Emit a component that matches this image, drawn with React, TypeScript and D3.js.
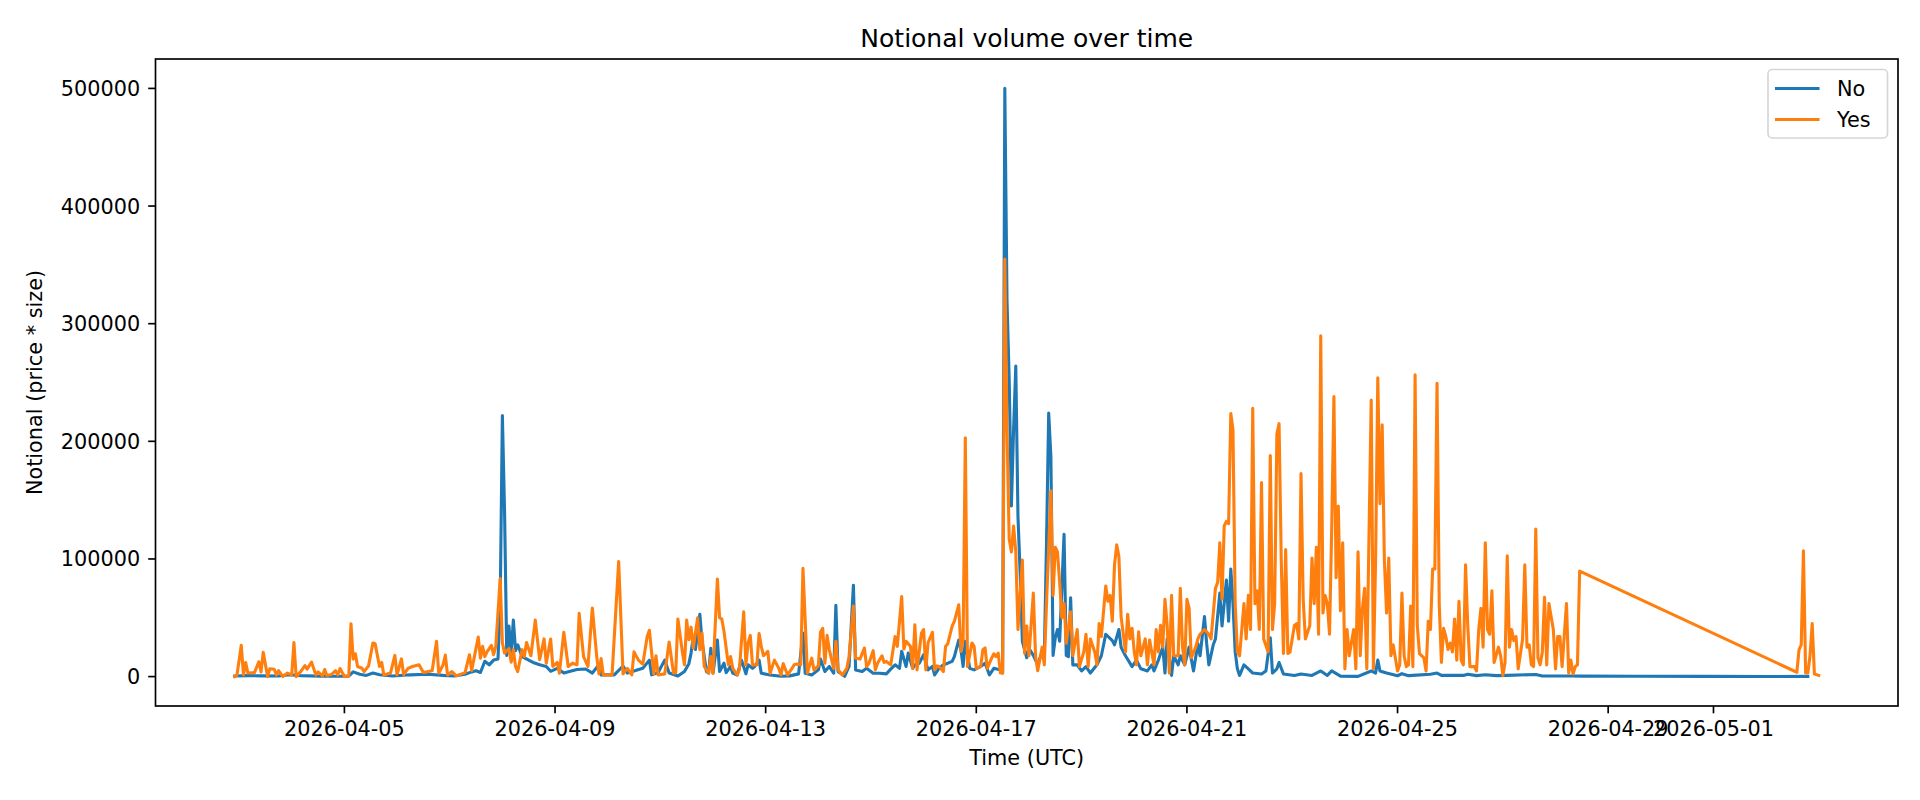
import React from "react";
import * as d3 from "d3";

// hourly buckets, hours counted from 2026-04-02 22:00 UTC
const START_UTC = Date.UTC(2026, 3, 2, 22);

// [hour, notional] for the "No" outcome
const noPoints: [number, number][] = [
  [0, 500], [6, 800], [12, 600], [20, 500], [25, 1500], [30, 800], [40, 300], [52, 400],
  [54, 4000], [57, 2000], [60, 1000], [63, 3000], [66, 1500], [72, 500], [80, 1500], [88, 2000],
  [95, 1000], [100, 500], [105, 2000], [108, 4000], [110, 5000], [112, 3500], [114, 13000],
  [116, 10000], [118, 14000], [120, 15000], [121, 60000], [122, 222000], [123, 140000],
  [124, 18000], [125, 43000], [126, 20000], [127, 48000], [128, 22000], [129, 27000],
  [131, 17000], [134, 14000], [136, 12000], [139, 10000], [142, 8600], [144, 4500], [147, 7000],
  [150, 3000], [153, 4500], [156, 6000], [160, 6500], [163, 3000], [166, 10000], [167, 1500],
  [173, 1500], [177, 9000], [179, 3000], [186, 7000], [189, 14000], [190, 1500], [193, 3500],
  [196, 14000], [198, 3000], [202, 500], [205, 4300], [207, 11000], [208, 20000], [209, 34000],
  [210, 23000], [212, 53000], [213, 30000], [215, 4300], [216, 3000], [217, 24000], [218, 3000],
  [220, 31000], [221, 4300], [223, 11400], [224, 3400], [226, 8600], [227, 2900], [229, 1400],
  [231, 14000], [233, 2300], [234, 10000], [236, 7000], [237, 8600], [239, 14000], [240, 2900],
  [244, 1400], [249, 300], [253, 600], [257, 2300], [259, 37000], [260, 2900], [263, 1400],
  [266, 5700], [267, 14900], [269, 4300], [271, 8600], [273, 2900], [274, 60600], [275, 4300],
  [278, 200], [280, 8600], [282, 77700], [283, 5700], [286, 4300], [288, 7000], [291, 2900],
  [294, 2900], [297, 2300], [299, 6300], [301, 10000], [303, 7000], [304, 21400], [306, 8600],
  [307, 20000], [309, 7000], [310, 10000], [312, 11400], [314, 18600], [316, 5700], [318, 8600],
  [319, 1400], [321, 7000], [323, 10000], [325, 11400], [327, 12900], [328, 17000], [330, 31000],
  [331, 22900], [332, 8600], [333, 30000], [335, 7000], [337, 5700], [340, 8600], [342, 11400],
  [344, 1400], [346, 7000], [349, 5700], [350, 3000], [351, 500000], [352, 320000],
  [353, 252000], [354, 145000], [355, 210000], [356, 264000], [357, 136000], [358, 88000],
  [359, 30000], [361, 16000], [362, 24000], [364, 18000], [366, 10000], [368, 21000],
  [369, 18000], [370, 113000], [371, 224000], [372, 187000], [373, 18000], [374, 33000],
  [375, 40000], [376, 30000], [378, 121000], [379, 18000], [380, 17000], [381, 67000],
  [382, 10000], [384, 10000], [386, 4800], [388, 8500], [390, 3000], [393, 10000], [395, 17700],
  [397, 36000], [400, 30600], [401, 27000], [403, 40000], [404, 25000], [406, 17700],
  [409, 8500], [411, 14000], [413, 6600], [416, 4800], [418, 10000], [419, 4800], [421, 14000],
  [423, 25000], [424, 3000], [425, 32000], [427, 1000], [428, 17700], [430, 10000],
  [431, 17700], [433, 10000], [435, 25000], [437, 4800], [439, 28000], [440, 17700],
  [442, 51000], [443, 28000], [444, 10000], [446, 27000], [447, 32000], [449, 71000],
  [450, 43000], [452, 82000], [453, 47000], [454, 91500], [455, 62000], [456, 21000],
  [457, 6600], [458, 1000], [460, 10000], [462, 6600], [464, 3000], [468, 2200], [470, 4800],
  [472, 33000], [473, 3000], [475, 6600], [476, 12000], [478, 2200], [483, 1000], [486, 2200],
  [491, 1000], [495, 4800], [498, 1000], [500, 4800], [504, 400], [512, 200], [518, 4800],
  [520, 3000], [521, 14000], [522, 4800], [525, 3000], [530, 700], [532, 2500], [535, 800],
  [545, 2000], [548, 3000], [550, 1000], [560, 1000], [562, 2000], [566, 800], [570, 1500],
  [575, 800], [580, 1000], [593, 1800], [596, 500], [610, 500], [614, 400], [640, 300],
  [670, 200], [700, 100], [717, 200],
];

// [hour, notional] for the "Yes" outcome
const yesPoints: [number, number][] = [
  [0, 0], [1, 1000], [3, 26600], [4, 1500], [5, 12000], [6, 3000], [9, 3400], [11, 12600],
  [12, 4000], [13, 20600], [15, 0], [16, 6600], [18, 6300], [19, 1400], [20, 5000], [22, 0],
  [24, 3000], [26, 1400], [27, 29000], [28, 0], [30, 4000], [32, 9400], [33, 6300], [35, 12300],
  [37, 1400], [38, 4000], [40, 600], [41, 6000], [42, 1000], [44, 1700], [46, 5000], [47, 1400],
  [48, 6900], [50, 0], [52, 600], [53, 44900], [54, 14900], [55, 19400], [56, 8600], [58, 7100],
  [59, 4300], [61, 9100], [63, 28600], [64, 28000], [66, 8600], [67, 12000], [68, 1400],
  [71, 3000], [73, 18000], [74, 1400], [76, 15000], [77, 1700], [79, 7000], [81, 8600],
  [84, 10000], [86, 3400], [90, 4900], [92, 30000], [93, 2900], [95, 10000], [96, 18300],
  [97, 1400], [99, 4300], [101, 600], [105, 3400], [107, 18600], [108, 5100], [111, 33700],
  [112, 15700], [113, 25700], [114, 17000], [115, 21000], [117, 26600], [118, 18600],
  [119, 25700], [121, 83400], [122, 28600], [123, 20000], [125, 23700], [126, 12300],
  [127, 22900], [128, 8600], [129, 4300], [131, 22900], [132, 17000], [133, 29000],
  [135, 17700], [137, 48000], [139, 14300], [141, 32000], [142, 11400], [144, 32000],
  [145, 8600], [147, 12000], [148, 2900], [150, 37700], [152, 8600], [154, 11400], [156, 10000],
  [157, 53700], [159, 17000], [161, 8600], [163, 58300], [165, 17000], [166, 2300], [167, 15400],
  [168, 1400], [172, 1400], [175, 97700], [177, 2300], [179, 7000], [181, 1400], [182, 21000],
  [184, 14000], [186, 10600], [188, 34000], [189, 39400], [191, 2300], [192, 17700], [193, 1400],
  [196, 2300], [198, 29400], [200, 3000], [201, 3000], [202, 49000], [204, 21400], [205, 10000],
  [206, 48000], [207, 31400], [208, 42000], [209, 24300], [211, 50000], [212, 22900],
  [213, 37000], [214, 8600], [216, 2900], [217, 17000], [218, 2900], [220, 83000], [221, 50000],
  [222, 49000], [223, 38600], [225, 10000], [226, 17000], [227, 7000], [229, 1400], [230, 5700],
  [232, 55000], [233, 10000], [234, 28600], [235, 35000], [236, 10000], [238, 10000],
  [239, 36600], [240, 25700], [241, 17700], [243, 21400], [244, 2900], [246, 14000], [248, 7000],
  [249, 1400], [250, 11000], [252, 1400], [254, 7000], [255, 10000], [256, 10600], [258, 10000],
  [259, 92000], [260, 48600], [261, 2900], [263, 15700], [264, 5700], [266, 9100], [267, 37700],
  [268, 41000], [269, 11400], [270, 35000], [271, 23000], [273, 7000], [274, 30000], [275, 5700],
  [277, 1400], [279, 7000], [280, 17000], [282, 60000], [283, 15700], [285, 14900], [287, 24300],
  [288, 8600], [289, 11000], [291, 22000], [292, 5700], [293, 11400], [295, 17700], [296, 12000],
  [297, 12900], [299, 10000], [301, 34000], [302, 25700], [304, 68000], [305, 23400],
  [306, 30000], [308, 25700], [309, 7000], [310, 44000], [311, 5700], [313, 37000], [314, 40000],
  [315, 5700], [316, 28600], [318, 37700], [319, 5700], [320, 9100], [321, 8600], [323, 4300],
  [324, 25700], [325, 28000], [327, 43000], [328, 47000], [330, 61000], [331, 21400],
  [332, 31400], [333, 203000], [334, 8600], [336, 28600], [337, 25700], [338, 7000], [340, 8600],
  [341, 22900], [342, 24300], [343, 7000], [345, 15700], [346, 19400], [347, 17000], [348, 20000],
  [349, 3000], [350, 3000], [351, 355000], [352, 210000], [353, 117000], [354, 106000],
  [355, 128000], [356, 106000], [357, 40000], [359, 99000], [360, 20000], [361, 43000],
  [362, 17700], [364, 71000], [365, 17700], [366, 5000], [368, 25000], [369, 10000], [370, 62000],
  [372, 158000], [373, 69000], [374, 110000], [375, 106000], [376, 80000], [377, 50000],
  [378, 62000], [379, 28400], [381, 55000], [382, 17700], [384, 40000], [385, 8500], [387, 21000],
  [388, 36000], [389, 8500], [390, 32000], [392, 21000], [393, 10000], [394, 45000], [395, 34000],
  [397, 77000], [398, 64000], [399, 69000], [400, 47000], [401, 95000], [402, 112000],
  [403, 102000], [404, 51000], [406, 21000], [407, 53000], [408, 32000], [409, 41000],
  [410, 21000], [411, 10000], [412, 38000], [413, 17700], [415, 32000], [416, 10000],
  [417, 31000], [419, 10000], [420, 40000], [421, 21000], [422, 43500], [423, 25000],
  [424, 65700], [425, 43500], [426, 3000], [427, 69000], [428, 17700], [430, 17700], [431, 75000],
  [432, 25000], [433, 10000], [434, 65700], [435, 58000], [436, 16000], [438, 25000],
  [439, 32000], [440, 36000], [442, 40000], [444, 36000], [445, 32000], [447, 75000],
  [448, 80000], [449, 113700], [450, 65700], [451, 128000], [452, 132000], [453, 130000],
  [454, 223600], [455, 209600], [456, 62000], [457, 21000], [458, 17700], [460, 62000],
  [461, 32000], [462, 69000], [463, 40000], [464, 228000], [465, 62000], [466, 73000],
  [467, 40000], [468, 165000], [469, 32000], [471, 21000], [472, 188000], [473, 40000],
  [474, 62000], [475, 206000], [476, 215000], [477, 99000], [478, 19600], [479, 108000],
  [480, 19600], [481, 21000], [483, 43500], [484, 45000], [485, 32000], [486, 172700],
  [487, 65700], [488, 32000], [490, 43500], [491, 100700], [492, 62000], [493, 110000],
  [494, 36000], [495, 289700], [496, 54000], [497, 69000], [498, 62000], [499, 36000],
  [500, 126600], [501, 238000], [502, 84000], [503, 145000], [504, 56000], [505, 113700],
  [506, 6600], [507, 40000], [508, 17700], [510, 40000], [511, 6600], [512, 106000],
  [513, 17700], [514, 58000], [515, 75000], [516, 6600], [518, 235000], [519, 6600],
  [520, 99000], [521, 254000], [522, 147000], [523, 214000], [524, 99000], [525, 54000],
  [526, 100700], [527, 17700], [528, 27000], [530, 4800], [531, 10000], [532, 71000],
  [533, 17700], [534, 8500], [535, 10000], [536, 60000], [537, 8500], [538, 256500],
  [539, 43500], [540, 19600], [542, 15900], [543, 4800], [544, 47000], [545, 40000],
  [546, 91500], [547, 91500], [548, 249400], [549, 62000], [550, 12000], [551, 41000],
  [552, 34000], [553, 23000], [554, 28400], [555, 21000], [556, 49000], [557, 14000],
  [558, 64000], [559, 14000], [560, 10000], [561, 95000], [562, 43500], [563, 8500], [565, 8500],
  [566, 4800], [567, 40000], [568, 58000], [569, 25000], [570, 113700], [571, 40000],
  [572, 36000], [573, 73000], [574, 12000], [576, 25000], [577, 17700], [578, 1000], [579, 12000],
  [580, 102600], [581, 25000], [582, 40000], [583, 30600], [584, 34000], [585, 6600],
  [587, 32000], [588, 95000], [589, 25000], [590, 27000], [591, 10000], [592, 8500],
  [593, 125500], [594, 15900], [595, 10000], [596, 21000], [597, 67500], [598, 10000],
  [599, 62000], [601, 40000], [602, 6600], [603, 34000], [604, 34000], [605, 8500], [607, 62000],
  [608, 3000], [609, 14000], [610, 2200], [611, 8500], [612, 10000], [613, 89700], [712, 3700],
  [713, 23000], [714, 27000], [715, 107000], [716, 3000], [717, 3000], [718, 17700],
  [719, 45000], [720, 2200], [722, 1000],
];

const xTickLabels = [
  "2026-04-05", "2026-04-09", "2026-04-13", "2026-04-17",
  "2026-04-21", "2026-04-25", "2026-04-29", "2026-05-01",
];
const yTickValues = [0, 100000, 200000, 300000, 400000, 500000];

const series = [
  { name: "No", color: "#1f77b4", points: noPoints },
  { name: "Yes", color: "#ff7f0e", points: yesPoints },
];

const W = 1920;
const H = 800;
const plot = { left: 155.5, right: 1898, top: 59, bottom: 706 };
const FONT = "'DejaVu Sans', sans-serif";
const FS = 20.8;

const toDate = (h: number) => new Date(START_UTC + h * 3600000);

export default function App() {
  const allPts = [...noPoints, ...yesPoints];
  const [h0, h1] = d3.extent(allPts, (d) => d[0]) as [number, number];
  const hPad = (h1 - h0) * 0.05;
  const x = d3
    .scaleUtc()
    .domain([toDate(h0 - hPad), toDate(h1 + hPad)])
    .range([plot.left, plot.right]);

  const [v0, v1] = d3.extent(allPts, (d) => d[1]) as [number, number];
  const vPad = (v1 - v0) * 0.05;
  const y = d3
    .scaleLinear()
    .domain([v0 - vPad, v1 + vPad])
    .range([plot.bottom, plot.top]);

  const line = d3
    .line<[number, number]>()
    .x((d) => x(toDate(d[0])))
    .y((d) => y(d[1]));

  const parseDay = d3.utcParse("%Y-%m-%d");
  const midX = (plot.left + plot.right) / 2;
  const midY = (plot.top + plot.bottom) / 2;
  const tickLen = 7.3;
  const axisW = 1.67;

  // legend box in the upper right corner
  const lg = { x: 1768, y: 69.5, w: 119.5, h: 68.5 };

  return (
    <svg
      width={W}
      height={H}
      style={{ position: "absolute", left: 0, top: 0, background: "#fff" }}
      fontFamily={FONT}
    >
      <defs>
        <clipPath id="plot-clip">
          <rect
            x={plot.left}
            y={plot.top}
            width={plot.right - plot.left}
            height={plot.bottom - plot.top}
          />
        </clipPath>
      </defs>
      <rect width={W} height={H} fill="#fff" />

      <g clipPath="url(#plot-clip)">
        {series.map((s) => (
          <path
            key={s.name}
            d={line(s.points) || ""}
            fill="none"
            stroke={s.color}
            strokeWidth={3.1}
            strokeLinejoin="round"
            strokeLinecap="square"
          />
        ))}
      </g>

      {/* spines */}
      <rect
        x={plot.left}
        y={plot.top}
        width={plot.right - plot.left}
        height={plot.bottom - plot.top}
        fill="none"
        stroke="#000"
        strokeWidth={axisW}
      />

      {/* y axis */}
      {yTickValues.map((v) => (
        <g key={v}>
          <line
            x1={plot.left - tickLen}
            x2={plot.left}
            y1={y(v)}
            y2={y(v)}
            stroke="#000"
            strokeWidth={axisW}
          />
          <text
            x={plot.left - tickLen - 8}
            y={y(v)}
            dy="0.36em"
            textAnchor="end"
            fontSize={FS}
            fill="#000"
          >
            {String(v)}
          </text>
        </g>
      ))}

      {/* x axis */}
      {xTickLabels.map((lab) => {
        const px = x(parseDay(lab) as Date);
        return (
          <g key={lab}>
            <line
              x1={px}
              x2={px}
              y1={plot.bottom}
              y2={plot.bottom + tickLen}
              stroke="#000"
              strokeWidth={axisW}
            />
            <text
              x={px}
              y={plot.bottom + tickLen + 7.3}
              dy="0.76em"
              textAnchor="middle"
              fontSize={FS}
              fill="#000"
            >
              {lab}
            </text>
          </g>
        );
      })}

      <text x={midX} y={46.5} textAnchor="middle" fontSize={25} fill="#000">
        Notional volume over time
      </text>
      <text x={midX} y={765} textAnchor="middle" fontSize={FS} fill="#000">
        Time (UTC)
      </text>
      <text
        transform={`translate(34,${midY}) rotate(-90)`}
        textAnchor="middle"
        dy="0.36em"
        fontSize={FS}
        fill="#000"
      >
        Notional (price * size)
      </text>

      {/* legend */}
      <rect
        x={lg.x}
        y={lg.y}
        width={lg.w}
        height={lg.h}
        rx={4.2}
        fill="rgba(255,255,255,0.8)"
        stroke="rgba(204,204,204,0.8)"
        strokeWidth={axisW}
      />
      {series.map((s, i) => {
        const cy = lg.y + 19 + i * 31;
        return (
          <g key={s.name}>
            <line
              x1={lg.x + 8.5}
              x2={lg.x + 50}
              y1={cy}
              y2={cy}
              stroke={s.color}
              strokeWidth={3.1}
              strokeLinecap="square"
            />
            <text x={lg.x + 69} y={cy} dy="0.36em" fontSize={FS} fill="#000">
              {s.name}
            </text>
          </g>
        );
      })}
    </svg>
  );
}
